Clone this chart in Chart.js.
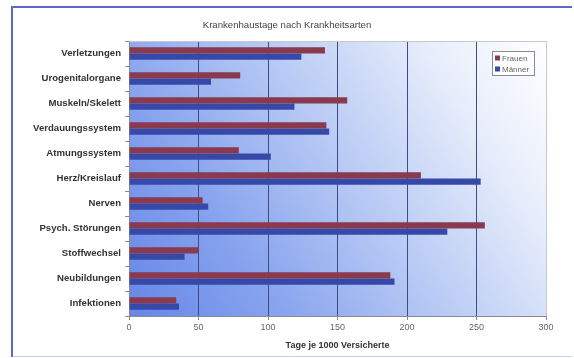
<!DOCTYPE html>
<html>
<head>
<meta charset="utf-8">
<style>
html,body{margin:0;padding:0;background:#fff;}
#wrap{position:relative;width:574px;height:358px;}
</style>
<script src="https://cdn.jsdelivr.net/npm/chart.js@4/dist/chart.umd.min.js"></script>
</head>
<body>
<div id="wrap"><canvas id="c" width="574" height="358"></canvas></div>
<script>
const categories = ["Verletzungen","Urogenitalorgane","Muskeln/Skelett","Verdauungssystem","Atmungssystem","Herz/Kreislauf","Nerven","Psych. Störungen","Stoffwechsel","Neubildungen","Infektionen"];
const frauen = [141, 80, 157, 142, 79, 210, 53, 256, 50, 188, 34];
const maenner = [124, 59, 119, 144, 102, 253, 57, 229, 40, 191, 36];
const xTicks = [0, 50, 100, 150, 200, 250, 300];
const chartTitle = "Krankenhaustage nach Krankheitsarten";
const xTitle = "Tage je 1000 Versicherte";

const FONT = "'Liberation Sans', Arial, sans-serif";

const bgPlugin = {
  id: 'bg',
  beforeDraw(chart) {
    const {ctx, chartArea: a} = chart;
    ctx.save();
    ctx.fillStyle = '#fff';
    ctx.fillRect(0, 0, chart.width, chart.height);
    const g = ctx.createLinearGradient(a.left, a.bottom, a.right, a.top);
    g.addColorStop(0, '#6686e6');
    g.addColorStop(0.25, '#87a3ee');
    g.addColorStop(0.55, '#bccdf5');
    g.addColorStop(0.8, '#e8eefb');
    g.addColorStop(1, '#ffffff');
    ctx.fillStyle = g;
    ctx.fillRect(a.left, a.top, a.right - a.left, a.bottom - a.top);
    ctx.restore();
  },
  afterDraw(chart) {
    const {ctx, chartArea: a} = chart;
    ctx.save();
    ctx.strokeStyle = '#c8c8cc';
    ctx.lineWidth = 1;
    ctx.beginPath();
    ctx.moveTo(a.left, a.top + 0.5);
    ctx.lineTo(a.right + 0.5, a.top + 0.5);
    ctx.lineTo(a.right + 0.5, a.bottom);
    ctx.stroke();
    ctx.strokeStyle = '#5a6cc0';
    ctx.lineWidth = 2;
    ctx.beginPath();
    ctx.moveTo(12, 357);
    ctx.lineTo(12, 7);
    ctx.lineTo(572, 7);
    ctx.stroke();
    ctx.strokeStyle = '#c9d3f0';
    ctx.lineWidth = 1;
    ctx.beginPath();
    ctx.moveTo(13, 356.5);
    ctx.lineTo(572, 356.5);
    ctx.stroke();
    const lx = 492, ly = 51, lw = 42, lh = 24;
    ctx.fillStyle = '#ffffff';
    ctx.fillRect(lx, ly, lw, lh);
    ctx.strokeStyle = '#8a8a90';
    ctx.lineWidth = 1;
    ctx.strokeRect(lx + 0.5, ly + 0.5, lw, lh);
    ctx.font = "8px " + FONT;
    ctx.textBaseline = 'middle';
    chart.data.datasets.forEach((ds, i) => {
      const y = ly + 7 + i * 11;
      ctx.fillStyle = ds.backgroundColor;
      ctx.fillRect(lx + 3, y - 2.5, 5, 5);
      ctx.fillStyle = '#666';
      ctx.fillText(ds.label, lx + 10, y + 0.5);
    });
    ctx.restore();
  }
};

new Chart(document.getElementById('c'), {
  type: 'bar',
  data: {
    labels: categories,
    datasets: [
      {label: 'Frauen', data: frauen, backgroundColor: '#8a3a4e', borderWidth: 0},
      {label: 'Männer', data: maenner, backgroundColor: '#3649a8', borderWidth: 0}
    ]
  },
  options: {
    indexAxis: 'y',
    responsive: false,
    animation: false,
    devicePixelRatio: 1,
    categoryPercentage: 0.5,
    barPercentage: 1.0,
    layout: {padding: {left: 0, right: 0, top: 0, bottom: 0}},
    plugins: {
      legend: {display: false},
      tooltip: {enabled: false},
      title: {
        display: true,
        text: chartTitle,
        color: '#444',
        font: {family: FONT, size: 9.6, weight: 'normal'},
        padding: {top: 19.5, bottom: 10}
      }
    },
    scales: {
      x: {
        min: 0, max: 300,
        afterBuildTicks(scale) { scale.ticks = xTicks.map(v => ({value: v})); },
        afterFit(scale) { scale.height = 42; },
        border: {display: true, color: '#8a8a90', width: 1},
        grid: {
          color: ctx => (ctx.tick && ctx.tick.value === 300) ? '#c8c8cc' : (ctx.tick && ctx.tick.value === 0 ? '#8a8a90' : '#3e4c86'),
          lineWidth: 1,
          tickLength: 4,
          drawTicks: true,
          tickColor: '#8a8a90'
        },
        ticks: {
          color: '#666',
          font: {family: FONT, size: 9},
          padding: 2,
          autoSkip: false,
          maxRotation: 0
        },
        title: {
          display: true,
          text: xTitle,
          color: '#333',
          font: {family: FONT, size: 9, weight: 'bold'},
          padding: {top: 2, bottom: 6.6}
        }
      },
      y: {
        afterFit(scale) { scale.width = 129; },
        border: {display: true, color: '#8a8a90', width: 1},
        grid: {
          drawOnChartArea: false,
          drawTicks: true,
          tickLength: 4,
          color: '#8a8a90',
          offset: true
        },
        ticks: {
          color: '#333',
          font: {family: FONT, size: 9.6, weight: 'bold'},
          padding: 4,
          autoSkip: false
        }
      },
      yRight: {
        type: 'linear',
        position: 'right',
        display: true,
        afterFit(scale) { scale.width = 28; },
        border: {display: false},
        grid: {display: false, drawTicks: false},
        ticks: {display: false}
      }
    }
  },
  plugins: [bgPlugin]
});
</script>
</body>
</html>
